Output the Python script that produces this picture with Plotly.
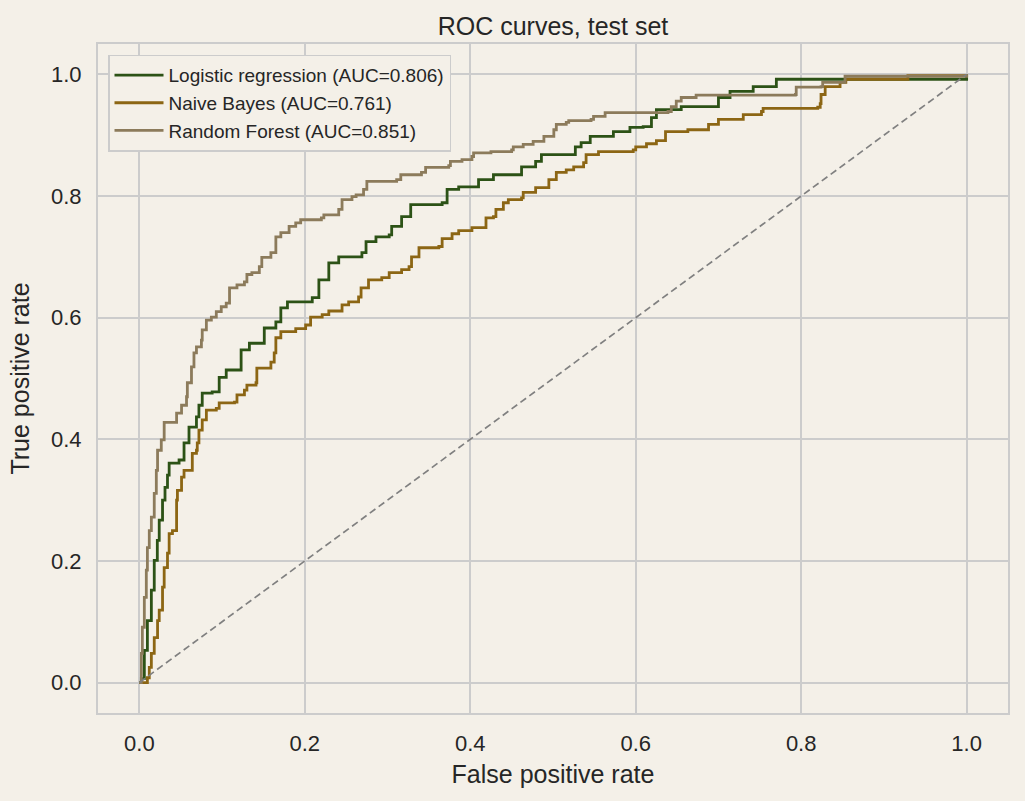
import plotly.graph_objects as go

# ---- data (ROC vertices) ----
lr_fpr = [0, 0.0024, 0.006, 0.0097, 0.0145, 0.018, 0.0217, 0.024, 0.028, 0.031, 0.034, 0.036,
          0.048, 0.054, 0.060, 0.069, 0.072, 0.076, 0.088, 0.0965, 0.105, 0.117, 0.123, 0.133,
          0.145, 0.151, 0.165, 0.171, 0.179, 0.209, 0.217, 0.229, 0.241, 0.269, 0.274, 0.286,
          0.302, 0.305, 0.317, 0.328, 0.366, 0.372, 0.386, 0.410, 0.428, 0.462, 0.462, 0.479,
          0.486, 0.527, 0.527, 0.534, 0.545, 0.573, 0.573, 0.593, 0.609, 0.619, 0.625, 0.639,
          0.655, 0.696, 0.700, 0.714, 0.742, 0.770, 0.989, 1.0]
lr_tpr = [0, 0.0066, 0.053, 0.102, 0.152, 0.201, 0.234, 0.267, 0.300, 0.321, 0.341, 0.361,
          0.366, 0.394, 0.420, 0.437, 0.456, 0.476, 0.478, 0.502, 0.514, 0.514, 0.547, 0.558,
          0.558, 0.583, 0.593, 0.616, 0.626, 0.633, 0.662, 0.690, 0.700, 0.707, 0.725, 0.733,
          0.736, 0.750, 0.766, 0.786, 0.789, 0.811, 0.815, 0.827, 0.835, 0.835, 0.848, 0.857,
          0.868, 0.868, 0.881, 0.888, 0.898, 0.901, 0.906, 0.913, 0.914, 0.929, 0.942, 0.942,
          0.947, 0.947, 0.962, 0.972, 0.980, 0.992, 0.992, 1.0]

nb_fpr = [0, 0.0097, 0.012, 0.0145, 0.018, 0.022, 0.024, 0.028, 0.030, 0.034, 0.036, 0.040,
          0.045, 0.046, 0.051, 0.054, 0.064, 0.069, 0.070, 0.072, 0.076, 0.081, 0.093, 0.0965,
          0.115, 0.118, 0.127, 0.130, 0.141, 0.142, 0.153, 0.159, 0.163, 0.165, 0.171, 0.189,
          0.201, 0.207, 0.221, 0.229, 0.245, 0.253, 0.265, 0.268, 0.277, 0.293, 0.302, 0.317,
          0.326, 0.329, 0.338, 0.362, 0.366, 0.378, 0.386, 0.402, 0.419, 0.419, 0.428, 0.431,
          0.440, 0.446, 0.462, 0.464, 0.479, 0.495, 0.495, 0.504, 0.516, 0.525, 0.537, 0.540,
          0.555, 0.597, 0.600, 0.613, 0.625, 0.636, 0.663, 0.688, 0.700, 0.726, 0.730, 0.752,
          0.754, 0.820, 0.823, 0.824, 0.829, 0.847, 0.854, 0.929, 0.929, 1.0]
nb_tpr = [0, 0.008, 0.025, 0.048, 0.074, 0.102, 0.119, 0.157, 0.189, 0.213, 0.245, 0.250,
          0.300, 0.316, 0.338, 0.349, 0.377, 0.382, 0.394, 0.415, 0.432, 0.448, 0.451, 0.460,
          0.461, 0.473, 0.481, 0.489, 0.493, 0.517, 0.517, 0.527, 0.542, 0.567, 0.577, 0.582,
          0.588, 0.601, 0.605, 0.611, 0.621, 0.626, 0.634, 0.649, 0.662, 0.666, 0.674, 0.679,
          0.684, 0.700, 0.715, 0.717, 0.730, 0.738, 0.743, 0.748, 0.756, 0.764, 0.766, 0.778,
          0.789, 0.794, 0.797, 0.806, 0.814, 0.815, 0.827, 0.839, 0.843, 0.848, 0.855, 0.868,
          0.873, 0.876, 0.881, 0.886, 0.891, 0.906, 0.909, 0.918, 0.926, 0.926, 0.934, 0.939,
          0.944, 0.946, 0.952, 0.967, 0.980, 0.987, 0.992, 0.992, 0.998, 1.0]

rf_fpr = [0, 0.0024, 0.0036, 0.006, 0.0084, 0.0097, 0.012, 0.0145, 0.018, 0.0205, 0.022, 0.0265,
          0.030, 0.042, 0.045, 0.051, 0.057, 0.058, 0.063, 0.066, 0.069, 0.075, 0.076, 0.081,
          0.087, 0.093, 0.099, 0.105, 0.109, 0.118, 0.127, 0.130, 0.136, 0.145, 0.148, 0.159,
          0.165, 0.171, 0.181, 0.189, 0.195, 0.220, 0.223, 0.241, 0.245, 0.257, 0.262, 0.271,
          0.275, 0.311, 0.316, 0.341, 0.346, 0.374, 0.376, 0.390, 0.402, 0.404, 0.425, 0.450,
          0.452, 0.464, 0.476, 0.489, 0.501, 0.504, 0.516, 0.519, 0.546, 0.549, 0.563, 0.639,
          0.643, 0.649, 0.655, 0.673, 0.793, 0.794, 0.824, 0.826, 0.844, 0.853, 1.0]
rf_tpr = [0, 0.048, 0.091, 0.140, 0.185, 0.222, 0.250, 0.272, 0.311, 0.349, 0.382, 0.399,
          0.428, 0.428, 0.443, 0.456, 0.470, 0.493, 0.519, 0.542, 0.552, 0.563, 0.580, 0.596,
          0.601, 0.610, 0.618, 0.624, 0.649, 0.654, 0.659, 0.671, 0.674, 0.684, 0.699, 0.707,
          0.733, 0.740, 0.750, 0.756, 0.761, 0.764, 0.769, 0.778, 0.794, 0.799, 0.802, 0.811,
          0.824, 0.827, 0.835, 0.839, 0.847, 0.850, 0.857, 0.860, 0.865, 0.871, 0.873, 0.876,
          0.881, 0.885, 0.890, 0.898, 0.909, 0.918, 0.921, 0.924, 0.926, 0.931, 0.937, 0.939,
          0.947, 0.956, 0.962, 0.966, 0.967, 0.979, 0.980, 0.987, 0.987, 0.997, 1.0]

chance_x = [0, 1]
chance_y = [0, 1]

names = ["Logistic regression (AUC=0.806)", "Naive Bayes (AUC=0.761)", "Random Forest (AUC=0.851)"]
colors = ["#2c5216", "#8c6614", "#8c7b5b"]
tick_vals = [0.0, 0.2, 0.4, 0.6, 0.8, 1.0]

BG = "#f4f0e8"
GRID = "#cccccc"
TXT = "#262626"
FONT = "Liberation Sans, Arial, sans-serif"

fig = go.Figure()
for i, (xs, ys) in enumerate([(lr_fpr, lr_tpr), (nb_fpr, nb_tpr), (rf_fpr, rf_tpr)]):
    fig.add_trace(go.Scatter(x=xs, y=ys, mode="lines", name=names[i],
                             line=dict(color=colors[i], width=2.8, shape="hv"),
                             legendgroup=f"g{i}"))
fig.add_trace(go.Scatter(x=chance_x, y=chance_y, mode="lines", showlegend=False,
                         line=dict(color="#808080", width=1.7, dash="7px,4px")))

axis_common = dict(range=[-0.05, 1.05], tickvals=tick_vals, tickformat=".1f",
                   showgrid=True, gridcolor=GRID, gridwidth=1.8,
                   showline=True, linecolor=GRID, linewidth=2, mirror=True,
                   zeroline=False, ticks="outside", ticklen=10,
                   tickcolor="rgba(0,0,0,0)",
                   tickfont=dict(size=22, color=TXT, family=FONT))

fig.update_xaxes(**axis_common, title=dict(text="False positive rate", standoff=10,
                                           font=dict(size=25, color=TXT, family=FONT)))
fig.update_yaxes(**axis_common, title=dict(text="True positive rate", standoff=14,
                                           font=dict(size=25, color=TXT, family=FONT)))

fig.update_layout(
    width=1025, height=801,
    margin=dict(l=98, r=17, t=44, b=88, autoexpand=False),
    paper_bgcolor=BG, plot_bgcolor=BG,
    font=dict(family=FONT, color=TXT),
    title=dict(text="ROC curves, test set", x=0.5, xref="paper", y=0.967, yanchor="middle",
               font=dict(size=25, color=TXT, family=FONT)),
    legend=dict(x=0.011, y=0.984, xanchor="left", yanchor="top",
                bgcolor=BG, bordercolor=GRID, borderwidth=1.5, itemwidth=49,
                font=dict(size=19, color=TXT, family=FONT), tracegroupgap=0),
    showlegend=True,
)

fig.write_html("out.html")
